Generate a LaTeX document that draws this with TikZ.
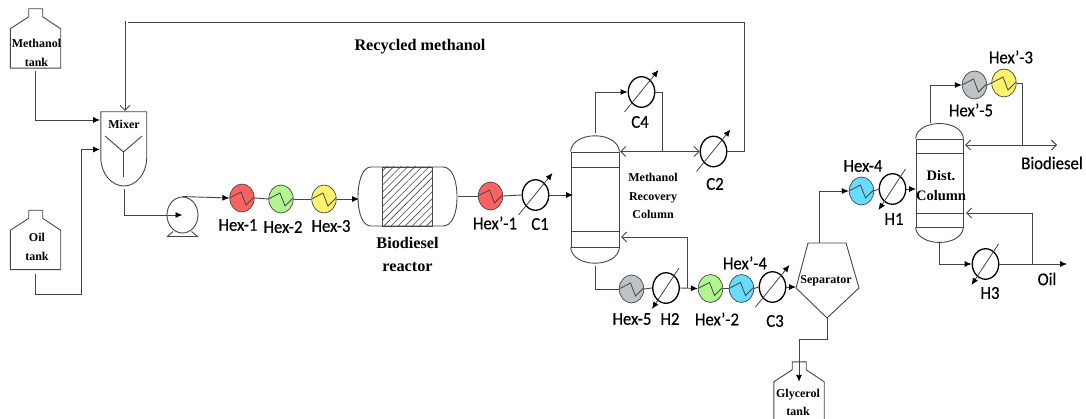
\documentclass[tikz,border=0pt]{standalone}
\usepackage{fontspec}
\usepackage{xcolor}
\usepackage{tikz}
\usetikzlibrary{arrows.meta,shapes.geometric,patterns.meta}
\setmainfont{Liberation Serif}
\newfontfamily\hexfont[FakeStretch=0.93,FakeBold=0.5]{Carlito}
\definecolor{linegray}{HTML}{454545}
\definecolor{hexred}{HTML}{FF6060}
\definecolor{hexgreen}{HTML}{B0F58F}
\definecolor{hexyellow}{HTML}{FFF26B}
\definecolor{hexblue}{HTML}{66DDFF}
\definecolor{hexgray}{HTML}{BEC3C6}
\newcommand{\tankshape}[1]{\draw[vessel] (#1.north west) -- (#1.south west) -- (#1.south east) -- (#1.north east) -- ++(-18,-12) -- ++(0,-8) -- ++(-14,0) -- ++(0,8) -- cycle;}
\newcommand{\columnshape}[3]{%
  \draw[vessel] (#1.north west) .. controls +(2,-#2) and +(-2,-#2) .. (#1.north east);
  \draw[vessel] (#1.south west) .. controls +(2,#3) and +(-2,#3) .. (#1.south east);}

\begin{document}
\begin{tikzpicture}[x=1pt,y=-1pt,
  vessel/.style={draw=linegray, line width=0.9pt},
  flow/.style={draw=linegray, line width=0.9pt, -{Latex[length=7pt,width=6pt,black]}},
  pipe/.style={draw=linegray, line width=0.9pt},
  barb/.style={draw=linegray, line width=0.9pt, -{Straight Barb[length=5pt,width=10pt]}},
  hexunit/.style={ellipse, draw=linegray, line width=0.7pt, minimum width=24.5pt, minimum height=28pt, inner sep=0pt,
    path picture={\draw[linegray, line width=0.8pt] (path picture bounding box.center) ++(-12.5,0) -- ++(11.5,-6) -- ++(5,13) -- ++(8,-8);}},
  hexred/.style={hexunit, fill=hexred},
  hexgreen/.style={hexunit, fill=hexgreen},
  hexyellow/.style={hexunit, fill=hexyellow},
  hexblue/.style={hexunit, fill=hexblue},
  hexgray/.style={hexunit, fill=hexgray},
  exch/.style={ellipse, draw=black, line width=1.3pt, minimum width=26.5pt, minimum height=30.5pt, inner sep=0pt},
  tag/.style={font=\hexfont\fontsize{18}{18}\selectfont, text=black, inner sep=0pt},
  lbl/.style={font=\fontsize{12}{18.5}\selectfont\bfseries, align=center, inner sep=0pt},
  biglbl/.style={font=\fontsize{16.2}{23}\selectfont\bfseries, align=center, inner sep=0pt},
  tankbox/.style={minimum width=50pt, minimum height=39pt, inner sep=0pt}
]
\useasboundingbox (0,0) rectangle (1086,419);

% tanks
\node[tankbox] (mtank) at (35.5,48.5) {};
\node[tankbox] (otank) at (35.5,250) {};
\node[tankbox] (gtank) at (799,401.5) {};
\tankshape{mtank}
\tankshape{otank}
\tankshape{gtank}
\node[lbl] (mtext) at (36.5,53) {Methanol\\tank};
\node[lbl] (otext) at (37,247) {Oil\\tank};
\node[lbl] (gtext) at (798,402.5) {Glycerol\\tank};

% mixer and pump
\node[minimum width=45.5pt, minimum height=46pt, inner sep=0pt] (mixer) at (123.75,135) {};
\draw[vessel] (mixer.south west) -- (mixer.north west) -- (mixer.north east) -- (mixer.south east)
  .. controls (146.5,174) and (136,186) .. (124,186) .. controls (112,186) and (101,174) .. (mixer.south west);
\draw[vessel] (105,136) -- (123.5,152) -- (142,136) (123.5,152) -- (123.5,177);
\node[lbl] (mixtext) at (124,124) {Mixer};
\node[ellipse, draw=linegray, line width=0.9pt, minimum width=31pt, minimum height=36pt, inner sep=0pt] (pump) at (182.5,215) {};
\draw[vessel] (173,231.5) -- (167.5,236.5) -- (197.5,236.5) -- (191.5,231.5);

% reactor
\draw[vessel] (371,167) -- (443,167) .. controls (452,167) and (457,180) .. (457,197)
  .. controls (457,214) and (452,226) .. (443,226) -- (371,226)
  .. controls (363,226) and (358,214) .. (358,197) .. controls (358,180) and (363,167) .. (371,167);
\node[draw=linegray, line width=0.9pt, minimum width=50pt, minimum height=59pt, inner sep=0pt,
  pattern={Lines[angle=45,distance=5pt,line width=0.6pt]}, pattern color=linegray] (rxn) at (407,196.5) {};
\node[biglbl] (rxntext) at (407.5,254.5) {Biodiesel\\reactor};

% columns
\node[vessel, minimum width=48pt, minimum height=95pt, inner sep=0pt] (mrc) at (595,199.5) {};
\columnshape{mrc}{21}{21}
\foreach \y in {167,231} \draw[vessel] (571,\y) -- (619,\y);
\node[lbl] (mrctext) at (653,196) {Methanol\\Recovery\\Column};
\node[vessel, minimum width=47pt, minimum height=88pt, inner sep=0pt] (dist) at (939.5,183) {};
\columnshape{dist}{20}{20}
\foreach \y in {153,213} \draw[vessel] (916,\y) -- (963,\y);
\node[font=\fontsize{14.5}{20}\selectfont\bfseries, align=center, inner sep=0pt] (disttext) at (941,186) {Dist.\\Column};

% separator
\coordinate (septop) at (819,243);
\coordinate (sepin) at (796,288);
\coordinate (sepbot) at (827,318);
\draw[vessel] (808,243) -- (846,243) -- (859,288) -- (sepbot) -- (sepin) -- cycle;
\node[lbl] (septext) at (826,281) {Separator};

% exchangers
\node[hexred]    (hexa) at (242,198) {};
\node[hexgreen]  (hexb) at (281,199) {};
\node[hexyellow] (hexc) at (324,199) {};
\node[hexred]    (hexpa) at (490.5,196) {};
\node[hexgray]   (hexe) at (631.5,289) {};
\node[hexgreen]  (hexpb) at (710.5,288.5) {};
\node[hexblue]   (hexpd) at (741.5,288.5) {};
\node[hexblue]   (hexd) at (861.5,191) {};
\node[hexgray]   (hexpe) at (974.5,85) {};
\node[hexyellow] (hexpc) at (1004,83) {};
\node[exch] (ca) at (535.5,195) {};
\node[exch] (cb) at (713.5,151.5) {};
\node[exch] (cc) at (772.5,287) {};
\node[exch] (cd) at (641.5,92) {};
\node[exch] (ha) at (892.5,189) {};
\node[exch] (hb) at (666,288) {};
\node[exch] (hc) at (985.5,264) {};
\foreach \u in {ca,cb,cc,cd}
  \draw[linegray, line width=0.8pt, -{Latex[length=7pt,width=6pt,black]}] ([shift={(-17,20)}]\u.center) -- ([shift={(17,-22)}]\u.center);
\foreach \u in {ha,hb,hc}
  \draw[linegray, line width=0.8pt, -{Latex[length=7pt,width=6pt,black]}] ([shift={(13,-20)}]\u.center) -- ([shift={(-14,21)}]\u.center);

% exchanger labels
\node[tag] (la) at (238,225) {Hex-1};
\node[tag] (lb) at (283,227) {Hex-2};
\node[tag] (lc) at (331,226) {Hex-3};
\node[tag] (lpa) at (495,223) {Hex’-1};
\node[tag] (lca) at (540,224) {C1};
\node[tag] (lcd) at (640,122) {C4};
\node[tag] (lcb) at (715,184) {C2};
\node[tag] (le) at (632,319) {Hex-5};
\node[tag] (lhb) at (670,319) {H2};
\node[tag] (lpb) at (717,319) {Hex’-2};
\node[tag] (lpd) at (745,263) {Hex’-4};
\node[tag] (lcc) at (775,321) {C3};
\node[tag] (ld) at (863,166) {Hex-4};
\node[tag] (lha) at (894,219) {H1};
\node[tag] (lpc) at (1011,57) {Hex’-3};
\node[tag] (lpe) at (971,110) {Hex’-5};
\node[tag] (lbio) at (1052,163) {Biodiesel};
\node[tag] (loil) at (1047,279) {Oil};
\node[tag] (lhc) at (990,293) {H3};
\node[biglbl] (recy) at (420,47) {Recycled methanol};

% free ends of the streams
\coordinate (mixa) at (100,120);
\coordinate (mixb) at (100,149.5);
\coordinate (mixtop) at (125,111);
\coordinate (mixout) at (124,189);
\coordinate (rxnin) at (359,199);
\coordinate (rxnout) at (458,196);
\coordinate (mrcfeed) at (573,195);
\coordinate (mrcrefl) at (620,151.5);
\coordinate (mrcboil) at (621,237);
\coordinate (distrefl) at (965,145);
\coordinate (distboil) at (966,213);
\coordinate (distfeed) at (916,189);
\coordinate (bioout) at (1057,145);
\coordinate (oilout) at (1067,264);
\coordinate (sepfeed) at (796,287);

% streams
\draw[flow] ([yshift=-3pt]mtank.south) |- (mixa);
\draw[flow] ([yshift=-4pt]otank.south) -- ++(0,21) -| (81,149.5) -- (mixb);
\draw[barb] (125,21) -- (mixtop);
\draw[pipe] (cb.east) -- (744.5,151.5) -- (744.5,22.5) -- (128,22.5);
\draw[flow] (mixout) |- (pump.center);
\draw[flow] (pump.north) -- (hexa.west);
\draw[pipe] (hexa.east) -- (hexb.west);
\draw[pipe] (hexb.east) -- (hexc.west);
\draw[flow] (hexc.east) -- (rxnin);
\draw[pipe] (rxnout) -- (hexpa.west);
\draw[pipe] (hexpa.east) -- (ca.west);
\draw[flow] (ca.east) -- (mrcfeed);
\draw[flow] (595,133) |- (cd.west);
\draw[pipe] (cd.east) -| (662.5,151.5);
\draw[barb] (662.5,151.5) -- (mrcrefl);
\draw[barb] (662.5,151.5) -- (cb.west);
\draw[pipe] (595,266) |- (hexe.west);
\draw[pipe] (hexe.east) -- (hb.west);
\draw[flow] (hb.east) -- (hexpb.west);
\draw[barb] (687.5,288) |- (mrcboil);
\draw[pipe] (hexpb.east) -- (hexpd.west);
\draw[pipe] (hexpd.east) -- (cc.west);
\draw[flow] (cc.east) -- (sepfeed);
\draw[flow] (sepbot) -- ++(0,21) -| (gtank.north);
\draw[flow] (septop) |- (hexd.west);
\draw[pipe] (hexd.east) -- (ha.west);
\draw[flow] (ha.east) -- (distfeed);
\draw[flow] (930,123) |- (hexpe.west);
\draw[pipe] (hexpe.east) -- (hexpc.west);
\draw[pipe] (hexpc.east) -| (1022,145);
\draw[barb] (1022,145) -- (distrefl);
\draw[barb] (1022,145) -- (bioout);
\draw[flow] (939,242) |- (hc.west);
\draw[flow] (hc.east) -- (oilout);
\draw[barb] (1032,264) |- (distboil);
\end{tikzpicture}
\end{document}
